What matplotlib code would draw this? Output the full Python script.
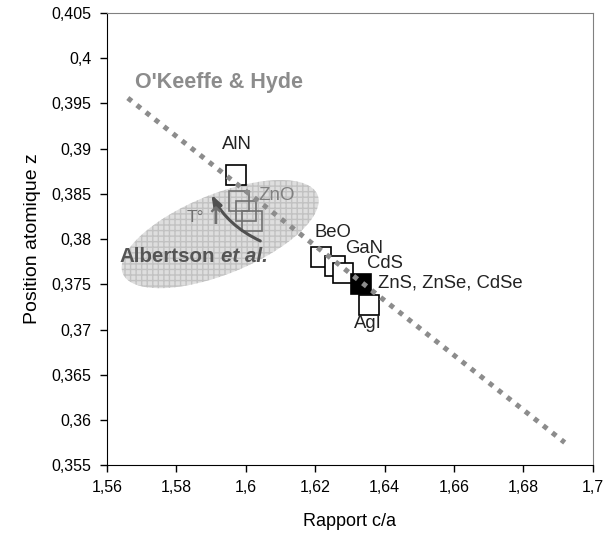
import matplotlib
matplotlib.use("Agg")
import matplotlib.pyplot as plt
from matplotlib.patches import Ellipse
from matplotlib.transforms import ScaledTranslation

plt.rcParams["font.family"] = ["Liberation Sans", "DejaVu Sans"]

# composés (c/a, z)
names = ["AlN", "BeO", "GaN", "CdS", "ZnS, ZnSe, CdSe", "AgI"]
ca = [1.5972, 1.6216, 1.6257, 1.6280, 1.6332, 1.6355]
z = [0.3871, 0.3780, 0.3770, 0.3762, 0.3750, 0.3727]
filled = [False, False, False, False, True, False]

# ZnO (Albertson et al., T croissante)
zno_ca = [1.5980, 1.6000, 1.6018]
zno_z = [0.3842, 0.3831, 0.3820]

# droite O'Keeffe & Hyde
okh_ca = [1.5660, 1.6919]
okh_z = [0.3956, 0.3575]

xticks = [1.56, 1.58, 1.60, 1.62, 1.64, 1.66, 1.68, 1.70]
yticks = [0.355, 0.36, 0.365, 0.37, 0.375, 0.38, 0.385, 0.39, 0.395, 0.4, 0.405]


def fr(v):
    return f"{v:g}".replace(".", ",")


fig = plt.figure(figsize=(6.08, 5.44), dpi=100)
ax = fig.add_axes([0.176, 0.145, 0.799, 0.831])
ax.set_xlim(1.56, 1.70)
ax.set_ylim(0.355, 0.405)

# zone grisée (ellipse en pixels autour de son centre)
ell = Ellipse((0, 0), 2.10, 0.80, angle=22, facecolor="#dedede",
              edgecolor="#c2c2c2", linewidth=0, hatch="+++", zorder=1,
              transform=fig.dpi_scale_trans + ScaledTranslation(1.5926, 0.38055, ax.transData))
ax.add_patch(ell)

ax.plot(zno_ca, zno_z, "s", ms=14, mfc="none", mec="#707070", mew=1.2, zorder=2)
for x, y, f in zip(ca, z, filled):
    ax.plot(x, y, "s", ms=14, mfc="black" if f else "white", mec="black", mew=1.2, zorder=2)

ax.plot(okh_ca, okh_z, color="#8c8c8c", lw=3.6, linestyle=(0, (1, 1.3)),
        dash_capstyle="butt", zorder=3)

# étiquettes
lab = dict(fontsize=13.3, color="#222222", zorder=4)
ax.text(1.5975, 0.39051, names[0], ha="center", va="center", **lab)
ax.text(1.6199, 0.38077, names[1], ha="left", va="center", **lab)
ax.text(1.6286, 0.37900, names[2], ha="left", va="center", **lab)
ax.text(1.6349, 0.37734, names[3], ha="left", va="center", **lab)
ax.text(1.6381, 0.37513, names[4], ha="left", va="center", **lab)
ax.text(1.6352, 0.37071, names[5], ha="center", va="center", **lab)

ax.text(1.6035, 0.38487, "ZnO", fontsize=13.5, color="#808080", va="center", zorder=4)
ax.annotate("", xy=(1.5897, 0.38520), xytext=(1.6049, 0.37967),
            arrowprops=dict(arrowstyle="-|>,head_length=0.7,head_width=0.25", color="#505050",
                            lw=2.2, connectionstyle="arc3,rad=-0.18"), zorder=4)
ax.text(1.5880, 0.38243, "T°", fontsize=12.5, color="#707070", ha="right", va="center", zorder=5)
ax.text(1.5884, 0.38243, "↑", fontsize=17, fontweight="bold", family="DejaVu Sans",
        color="#707070", ha="left", va="center", zorder=5)

t1 = ax.text(1.5637, 0.37812, "Albertson", fontsize=14.8, fontweight="bold",
             color="#555555", va="center", zorder=4)
ax.annotate("et al.", xy=(1, 0.5), xycoords=t1, xytext=(4, 0), textcoords="offset points",
            fontsize=14.8, fontweight="bold", fontstyle="italic", color="#555555",
            va="center", zorder=4)

ax.text(1.5681, 0.39737, "O'Keeffe & Hyde", fontsize=15.5, fontweight="bold",
        color="#8c8c8c", va="center", zorder=4)

ax.set_xticks(xticks)
ax.set_xticklabels([fr(v) for v in xticks])
ax.set_yticks(yticks)
ax.set_yticklabels([fr(v) for v in yticks])
ax.tick_params(direction="out", length=5, width=1, labelsize=11.5, pad=6)
for s in ["top", "right"]:
    ax.spines[s].set_color("#808080")
for s in ["left", "bottom"]:
    ax.spines[s].set_color("black")

ax.set_xlabel("Rapport c/a", fontsize=13, labelpad=13)
ax.set_ylabel("Position atomique z", fontsize=14, labelpad=8)

fig.savefig("out.png", dpi=100)
